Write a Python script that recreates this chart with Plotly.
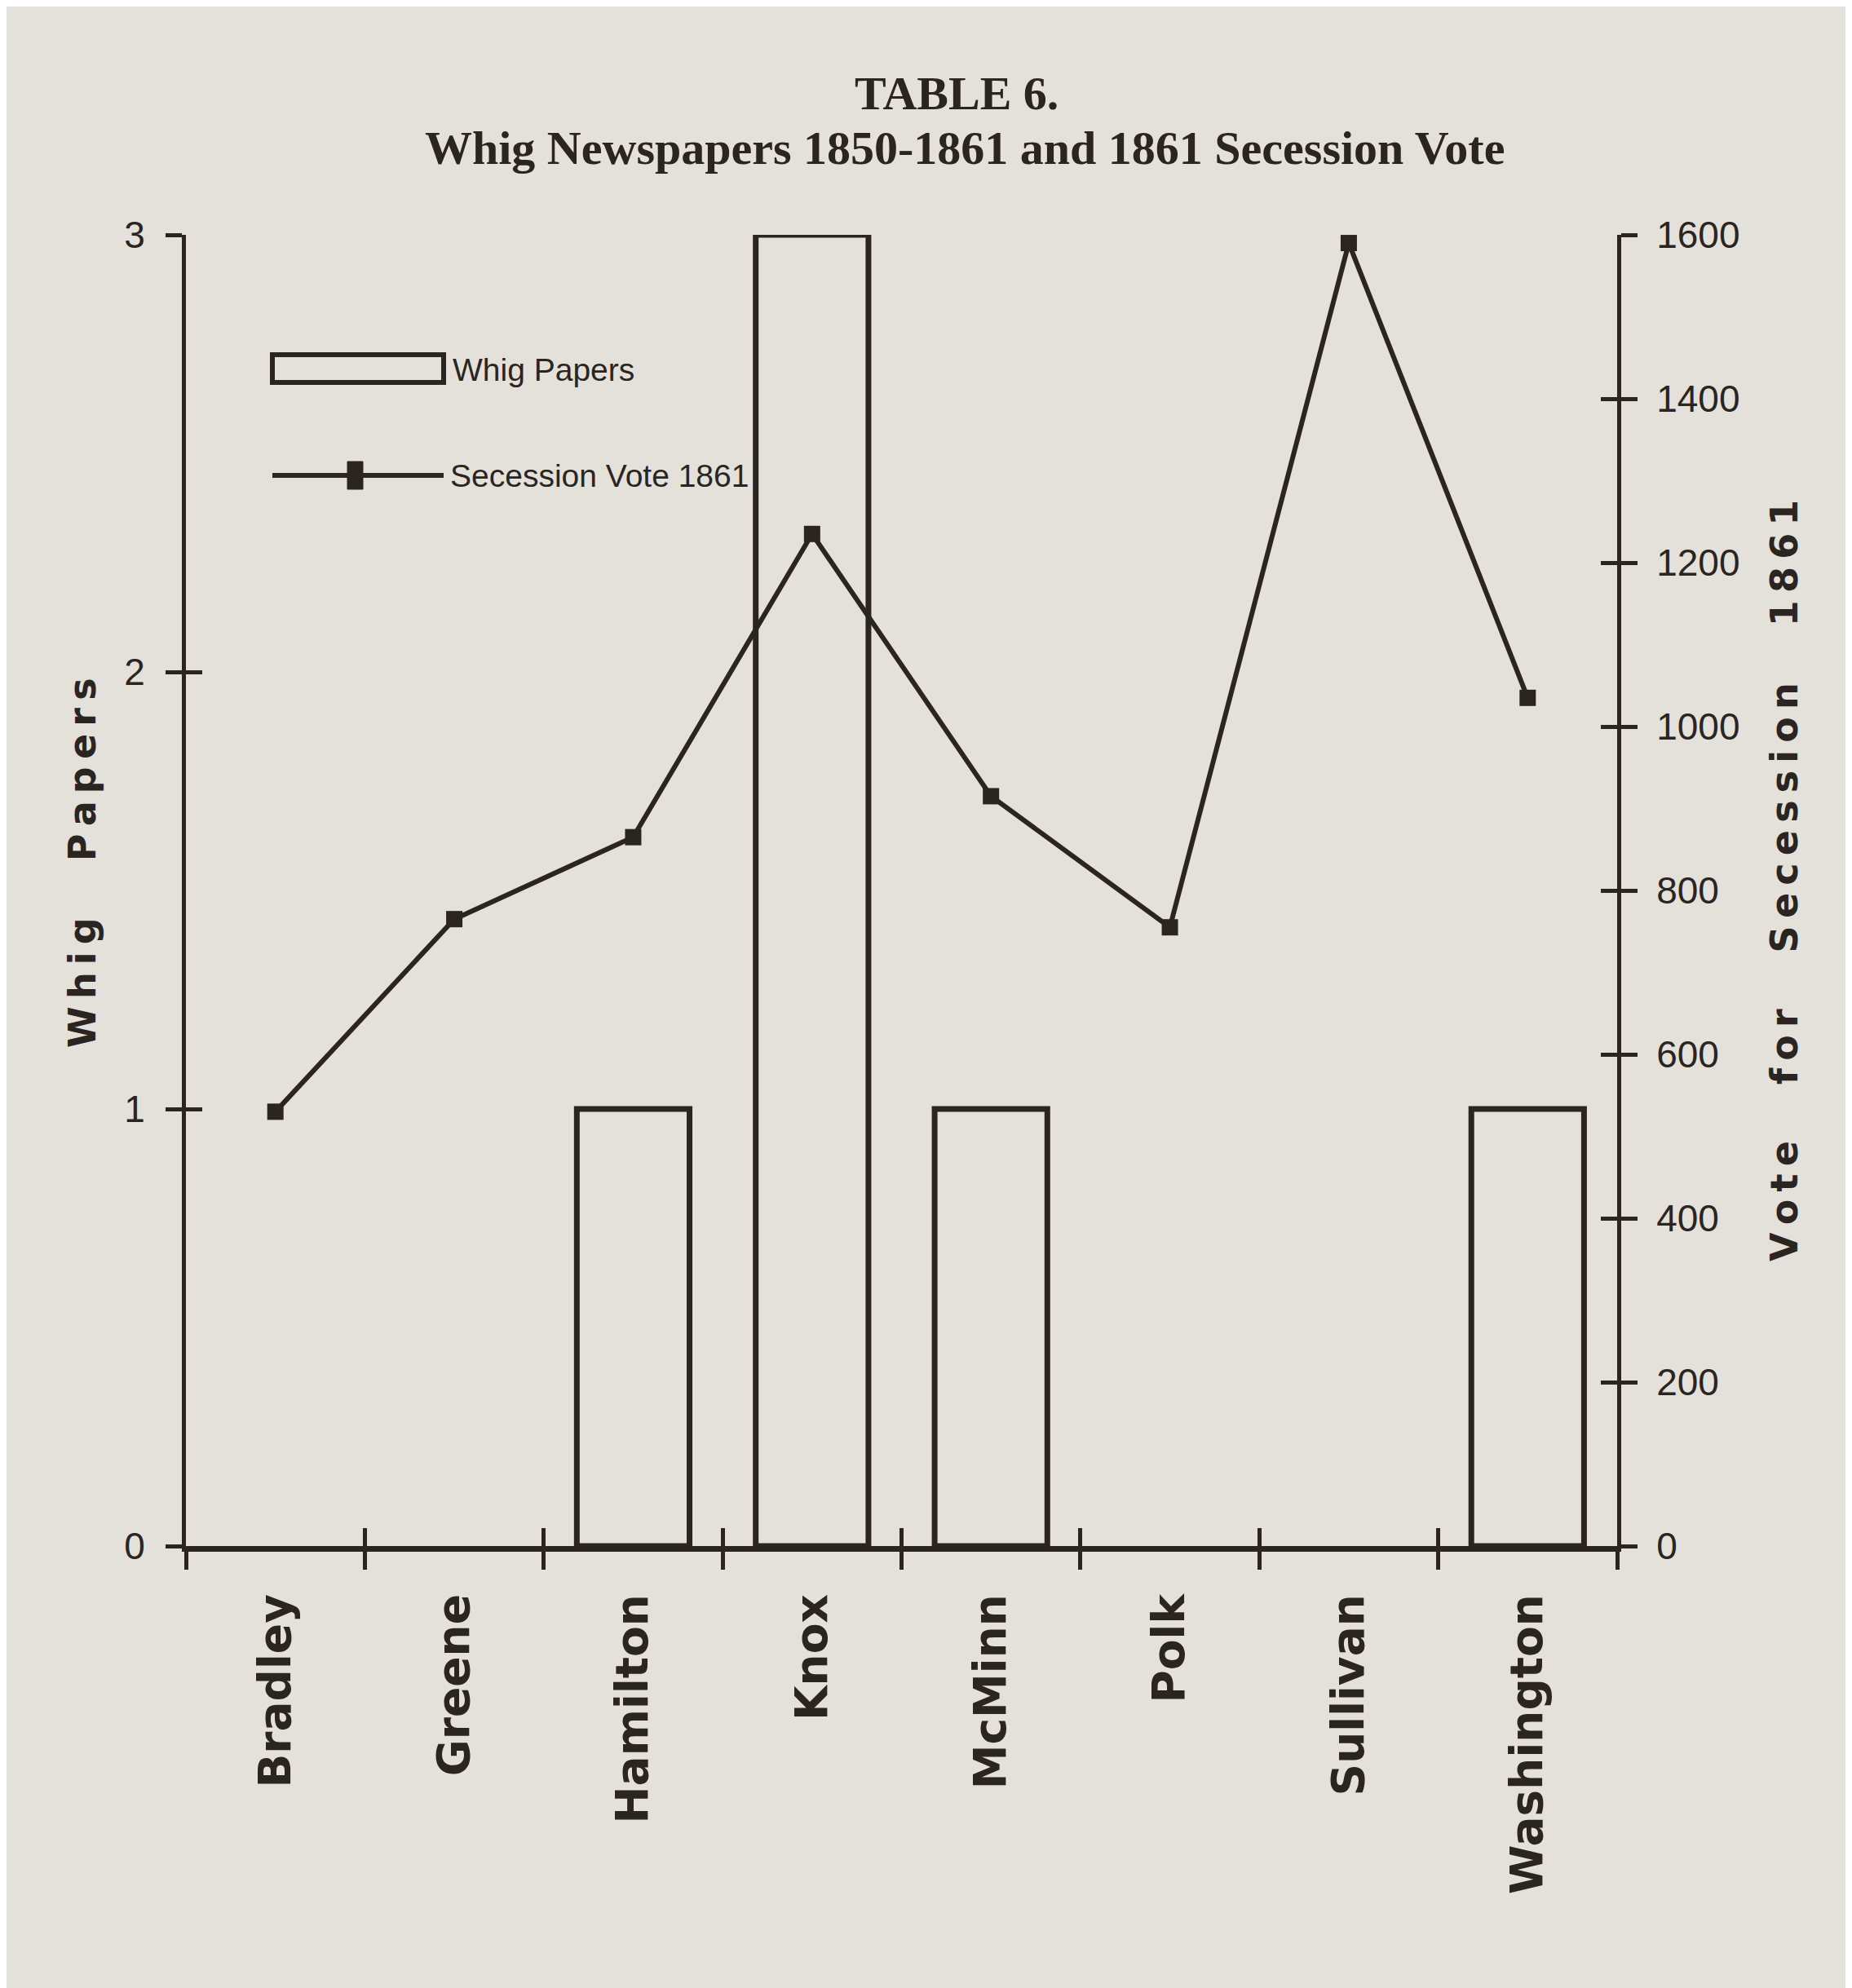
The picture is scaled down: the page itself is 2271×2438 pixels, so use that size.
import plotly.graph_objects as go

counties = ["Bradley", "Greene", "Hamilton", "Knox", "McMinn", "Polk", "Sullivan", "Washington"]
whig_papers = [0, 0, 1, 3, 1, 0, 0, 1]
secession_vote = [530, 765, 865, 1235, 915, 755, 1590, 1035]
left_ticks = [0, 1, 2, 3]
right_ticks = [0, 200, 400, 600, 800, 1000, 1200, 1400, 1600]
boundaries = [-0.5, 0.5, 1.5, 2.5, 3.5, 4.5, 5.5, 6.5, 7.5]

INK = "#2b2522"
BG = "#e4e1da"
W, H = 2271, 2438
L, R, T, B = 220, 2271 - 1975, 280, 2438 - 1888
PW, PH = W - L - R, H - T - B

def px(x):
    return (x - L) / PW

def py(y):
    return (H - B - y) / PH

tick_font = dict(family="Liberation Sans Narrow, Liberation Sans, Arial", size=46, color=INK)

# zero-height bars draw no outline
bar_line_widths = [7 if v > 0 else 0 for v in whig_papers]

fig = go.Figure()
fig.add_trace(go.Bar(
    x=counties, y=whig_papers, name="Whig Papers", width=0.63,
    marker=dict(color=BG, line=dict(color=INK, width=bar_line_widths)),
    xaxis="x", yaxis="y", showlegend=False,
))
fig.add_trace(go.Scatter(
    x=counties, y=secession_vote, name="Secession Vote 1861", mode="lines+markers",
    line=dict(color=INK, width=6),
    marker=dict(symbol="square", size=20, color=INK),
    xaxis="x", yaxis="y2", showlegend=False,
))

fig.update_layout(
    width=W, height=H,
    margin=dict(l=L, r=R, t=T, b=B),
    paper_bgcolor=BG, plot_bgcolor=BG,
    xaxis=dict(
        type="category", range=[-0.5, 7.5], tickson="boundaries",
        ticks="outside", ticklen=22, tickwidth=5, tickcolor=INK,
        showline=True, linecolor=INK, linewidth=7, showgrid=False, zeroline=False,
        tickangle=-90, ticklabelstandoff=30,
        tickfont=dict(family="DejaVu Sans", size=55, color=INK, weight="bold"),
    ),
    xaxis2=dict(
        overlaying="x", anchor="y", side="bottom", range=[-0.5, 7.5],
        tickmode="array", tickvals=boundaries, showticklabels=False,
        ticks="inside", ticklen=22, tickwidth=5, tickcolor=INK,
        showline=False, showgrid=False, zeroline=False,
    ),
    yaxis=dict(
        range=[0, 3], tickmode="array", tickvals=left_ticks,
        ticks="outside", ticklen=20, tickwidth=5, tickcolor=INK,
        showline=True, linecolor=INK, linewidth=5, showgrid=False, zeroline=False,
        tickfont=tick_font, ticklabelstandoff=16,
    ),
    yaxis3=dict(
        overlaying="y", anchor="x", side="left", range=[0, 3],
        tickmode="array", tickvals=left_ticks, showticklabels=False,
        ticks="inside", ticklen=20, tickwidth=5, tickcolor=INK,
        showline=False, showgrid=False, zeroline=False,
    ),
    yaxis2=dict(
        overlaying="y", anchor="x", side="right", range=[0, 1600],
        tickmode="array", tickvals=right_ticks,
        ticks="outside", ticklen=20, tickwidth=5, tickcolor=INK,
        showline=True, linecolor=INK, linewidth=5, showgrid=False, zeroline=False,
        tickfont=tick_font, ticklabelstandoff=14,
    ),
    yaxis4=dict(
        overlaying="y", anchor="x", side="right", range=[0, 1600],
        tickmode="array", tickvals=right_ticks, showticklabels=False,
        ticks="inside", ticklen=20, tickwidth=5, tickcolor=INK,
        showline=False, showgrid=False, zeroline=False,
    ),
)

# invisible traces so the overlay tick axes render
fig.add_trace(go.Scatter(x=[None], y=[None], xaxis="x2", yaxis="y3", showlegend=False, hoverinfo="skip"))
fig.add_trace(go.Scatter(x=[None], y=[None], xaxis="x", yaxis="y4", showlegend=False, hoverinfo="skip"))

# Manual legend
fig.add_shape(type="rect", xref="paper", yref="paper",
              x0=px(326), x1=px(536), y0=py(461), y1=py(427),
              line=dict(color=INK, width=6), fillcolor=BG)
fig.add_shape(type="line", xref="paper", yref="paper",
              x0=px(326), x1=px(536), y0=py(575), y1=py(575),
              line=dict(color=INK, width=6))
fig.add_shape(type="rect", xref="paper", yref="paper",
              x0=px(418), x1=px(437), y0=py(592), y1=py(558),
              line=dict(color=INK, width=1), fillcolor=INK)

legend_font = dict(family="Liberation Sans Narrow, Liberation Sans, Arial", size=39, color=INK)
fig.add_annotation(text="Whig Papers", xref="paper", yref="paper", x=px(545), y=py(446),
                   xanchor="left", yanchor="middle", showarrow=False, font=legend_font)
fig.add_annotation(text="Secession Vote 1861", xref="paper", yref="paper", x=px(542), y=py(575),
                   xanchor="left", yanchor="middle", showarrow=False, font=legend_font)

# Titles
title_font = dict(family="Liberation Serif, Times New Roman, serif", size=58, color=INK)
fig.add_annotation(text="<b>TABLE 6.</b>", xref="paper", yref="paper", x=px(1165), y=py(106),
                   xanchor="center", yanchor="middle", showarrow=False, font=title_font)
fig.add_annotation(text="<b>Whig Newspapers 1850-1861 and 1861 Secession Vote</b>", xref="paper", yref="paper",
                   x=px(1175), y=py(174), xanchor="center", yanchor="middle", showarrow=False, font=title_font)

# Axis titles
thin = "\u2009"
def spaced(word):
    return thin.join(list(word))

gap = "\u2003\u2002"
axis_title_font = dict(family="DejaVu Sans", size=46, color=INK)
fig.add_annotation(text="<b>" + spaced("Whig") + gap + spaced("Papers") + "</b>",
                   xref="paper", yref="paper", x=px(93), y=py(1050), textangle=-90,
                   xanchor="center", yanchor="middle", showarrow=False, font=axis_title_font)
fig.add_annotation(text="<b>" + gap.join(spaced(w) for w in ["Vote", "for", "Secession", "1861"]) + "</b>",
                   xref="paper", yref="paper", x=px(2180), y=py(1072), textangle=-90,
                   xanchor="center", yanchor="middle", showarrow=False, font=axis_title_font)

fig.write_html("out.html")
